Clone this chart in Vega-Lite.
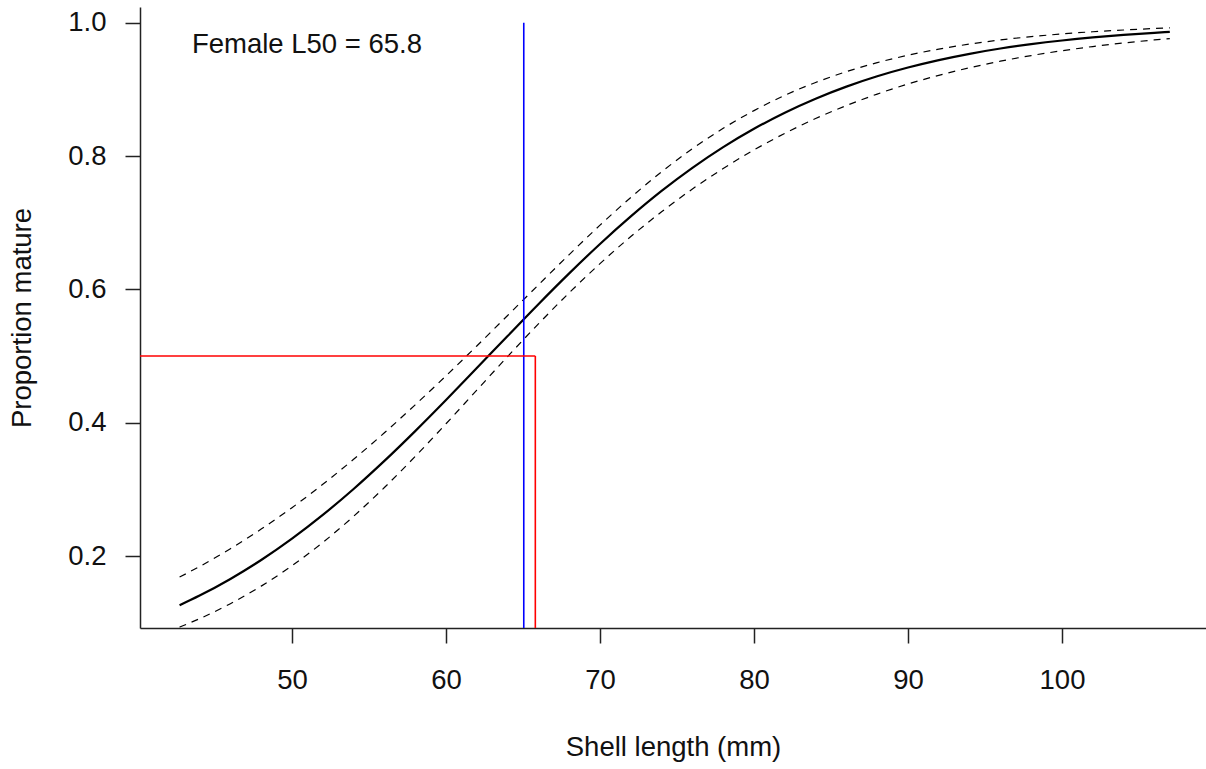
{
  "$schema": "https://vega.github.io/schema/vega-lite/v6.json",
  "autosize": {"type": "none"},
  "padding": {"left": 140, "top": 7, "right": 0, "bottom": 141},
  "width": 1066,
  "height": 621,
  "background": "white",
  "config": {
    "view": {"stroke": null},
    "font": "Liberation Sans",
    "axis": {
      "grid": false,
      "domainColor": "#222222",
      "domainWidth": 1.5,
      "tickColor": "#222222",
      "tickWidth": 1.5,
      "tickSize": 15,
      "labelFont": "Liberation Sans",
      "labelFontSize": 27.5,
      "labelColor": "#111111",
      "titleFont": "Liberation Sans",
      "titleFontSize": 27.5,
      "titleFontWeight": "normal",
      "titleColor": "#111111"
    }
  },
  "data": {
    "values": [
      {"L": 42.7, "p": 0.1262, "lo": 0.0934, "hi": 0.1685},
      {"L": 44, "p": 0.1407, "lo": 0.1061, "hi": 0.1843},
      {"L": 46, "p": 0.1657, "lo": 0.1286, "hi": 0.2110},
      {"L": 48, "p": 0.1941, "lo": 0.1549, "hi": 0.2404},
      {"L": 50, "p": 0.2261, "lo": 0.1855, "hi": 0.2726},
      {"L": 52, "p": 0.2617, "lo": 0.2204, "hi": 0.3076},
      {"L": 54, "p": 0.3006, "lo": 0.2596, "hi": 0.3451},
      {"L": 56, "p": 0.3427, "lo": 0.3028, "hi": 0.3849},
      {"L": 58, "p": 0.3874, "lo": 0.3494, "hi": 0.4268},
      {"L": 60, "p": 0.4340, "lo": 0.3984, "hi": 0.4703},
      {"L": 62, "p": 0.4819, "lo": 0.4489, "hi": 0.5151},
      {"L": 64, "p": 0.5301, "lo": 0.4992, "hi": 0.5608},
      {"L": 66, "p": 0.5778, "lo": 0.5482, "hi": 0.6067},
      {"L": 68, "p": 0.6240, "lo": 0.5949, "hi": 0.6522},
      {"L": 70, "p": 0.6681, "lo": 0.6386, "hi": 0.6963},
      {"L": 72, "p": 0.7094, "lo": 0.6792, "hi": 0.7379},
      {"L": 74, "p": 0.7476, "lo": 0.7164, "hi": 0.7764},
      {"L": 76, "p": 0.7822, "lo": 0.7505, "hi": 0.8109},
      {"L": 78, "p": 0.8133, "lo": 0.7813, "hi": 0.8415},
      {"L": 80, "p": 0.8408, "lo": 0.8091, "hi": 0.8681},
      {"L": 82, "p": 0.8650, "lo": 0.8340, "hi": 0.8910},
      {"L": 84, "p": 0.8860, "lo": 0.8562, "hi": 0.9103},
      {"L": 86, "p": 0.9041, "lo": 0.8757, "hi": 0.9265},
      {"L": 88, "p": 0.9196, "lo": 0.8929, "hi": 0.9400},
      {"L": 90, "p": 0.9327, "lo": 0.9080, "hi": 0.9512},
      {"L": 92, "p": 0.9439, "lo": 0.9210, "hi": 0.9604},
      {"L": 94, "p": 0.9533, "lo": 0.9324, "hi": 0.9679},
      {"L": 96, "p": 0.9612, "lo": 0.9422, "hi": 0.9741},
      {"L": 98, "p": 0.9678, "lo": 0.9507, "hi": 0.9790},
      {"L": 100, "p": 0.9733, "lo": 0.9579, "hi": 0.9831},
      {"L": 102, "p": 0.9779, "lo": 0.9642, "hi": 0.9864},
      {"L": 104, "p": 0.9817, "lo": 0.9695, "hi": 0.9890},
      {"L": 106, "p": 0.9848, "lo": 0.9741, "hi": 0.9912},
      {"L": 107, "p": 0.9862, "lo": 0.9761, "hi": 0.9921}
    ]
  },
  "encoding": {
    "x": {
      "field": "L", "type": "quantitative",
      "scale": {"domain": [40.13, 109.35], "nice": false, "zero": false},
      "axis": {
        "values": [50, 60, 70, 80, 90, 100],
        "labelPadding": 37, "labelBaseline": "middle",
        "title": "Shell length (mm)",
        "titleY": 119, "titleBaseline": "middle"
      }
    }
  },
  "layer": [
    {
      "mark": {"type": "line", "color": "black", "strokeWidth": 2.2, "interpolate": "monotone"},
      "encoding": {
        "y": {
          "field": "p", "type": "quantitative",
          "scale": {"domain": [0.0921, 1.0235], "nice": false, "zero": false},
          "axis": {
            "values": [0.2, 0.4, 0.6, 0.8, 1.0],
            "format": ".1f",
            "labelPadding": 19,
            "title": "Proportion mature",
            "titleX": -118, "titleY": 310.5, "titleBaseline": "middle"
          }
        }
      }
    },
    {
      "mark": {"type": "line", "color": "black", "strokeWidth": 1.2, "strokeDash": [7, 6], "interpolate": "monotone"},
      "encoding": {"y": {"field": "hi", "type": "quantitative"}}
    },
    {
      "mark": {"type": "line", "color": "black", "strokeWidth": 1.2, "strokeDash": [7, 6], "interpolate": "monotone"},
      "encoding": {"y": {"field": "lo", "type": "quantitative"}}
    },
    {
      "data": {"values": [{"L": 65.05, "y1": 1.0, "y2": 0.0}]},
      "mark": {"type": "rule", "color": "#0000ff", "strokeWidth": 1.6, "clip": true},
      "encoding": {
        "y": {"field": "y1", "type": "quantitative"},
        "y2": {"field": "y2"}
      }
    },
    {
      "data": {"values": [{"x1": 0.0, "x2": 65.8, "y": 0.5}]},
      "mark": {"type": "rule", "color": "#ff0000", "strokeWidth": 1.6, "clip": true},
      "encoding": {
        "x": {"field": "x1", "type": "quantitative"},
        "x2": {"field": "x2"},
        "y": {"field": "y", "type": "quantitative"}
      }
    },
    {
      "data": {"values": [{"L": 65.8, "y1": 0.5, "y2": 0.0}]},
      "mark": {"type": "rule", "color": "#ff0000", "strokeWidth": 1.6, "clip": true},
      "encoding": {
        "y": {"field": "y1", "type": "quantitative"},
        "y2": {"field": "y2"}
      }
    },
    {
      "data": {"values": [{"L": 43.5, "y": 0.967, "label": "Female L50 = 65.8"}]},
      "mark": {"type": "text", "align": "left", "baseline": "middle", "fontSize": 27.5, "font": "Liberation Sans", "color": "#111111"},
      "encoding": {
        "y": {"field": "y", "type": "quantitative"},
        "text": {"field": "label"}
      }
    }
  ]
}
